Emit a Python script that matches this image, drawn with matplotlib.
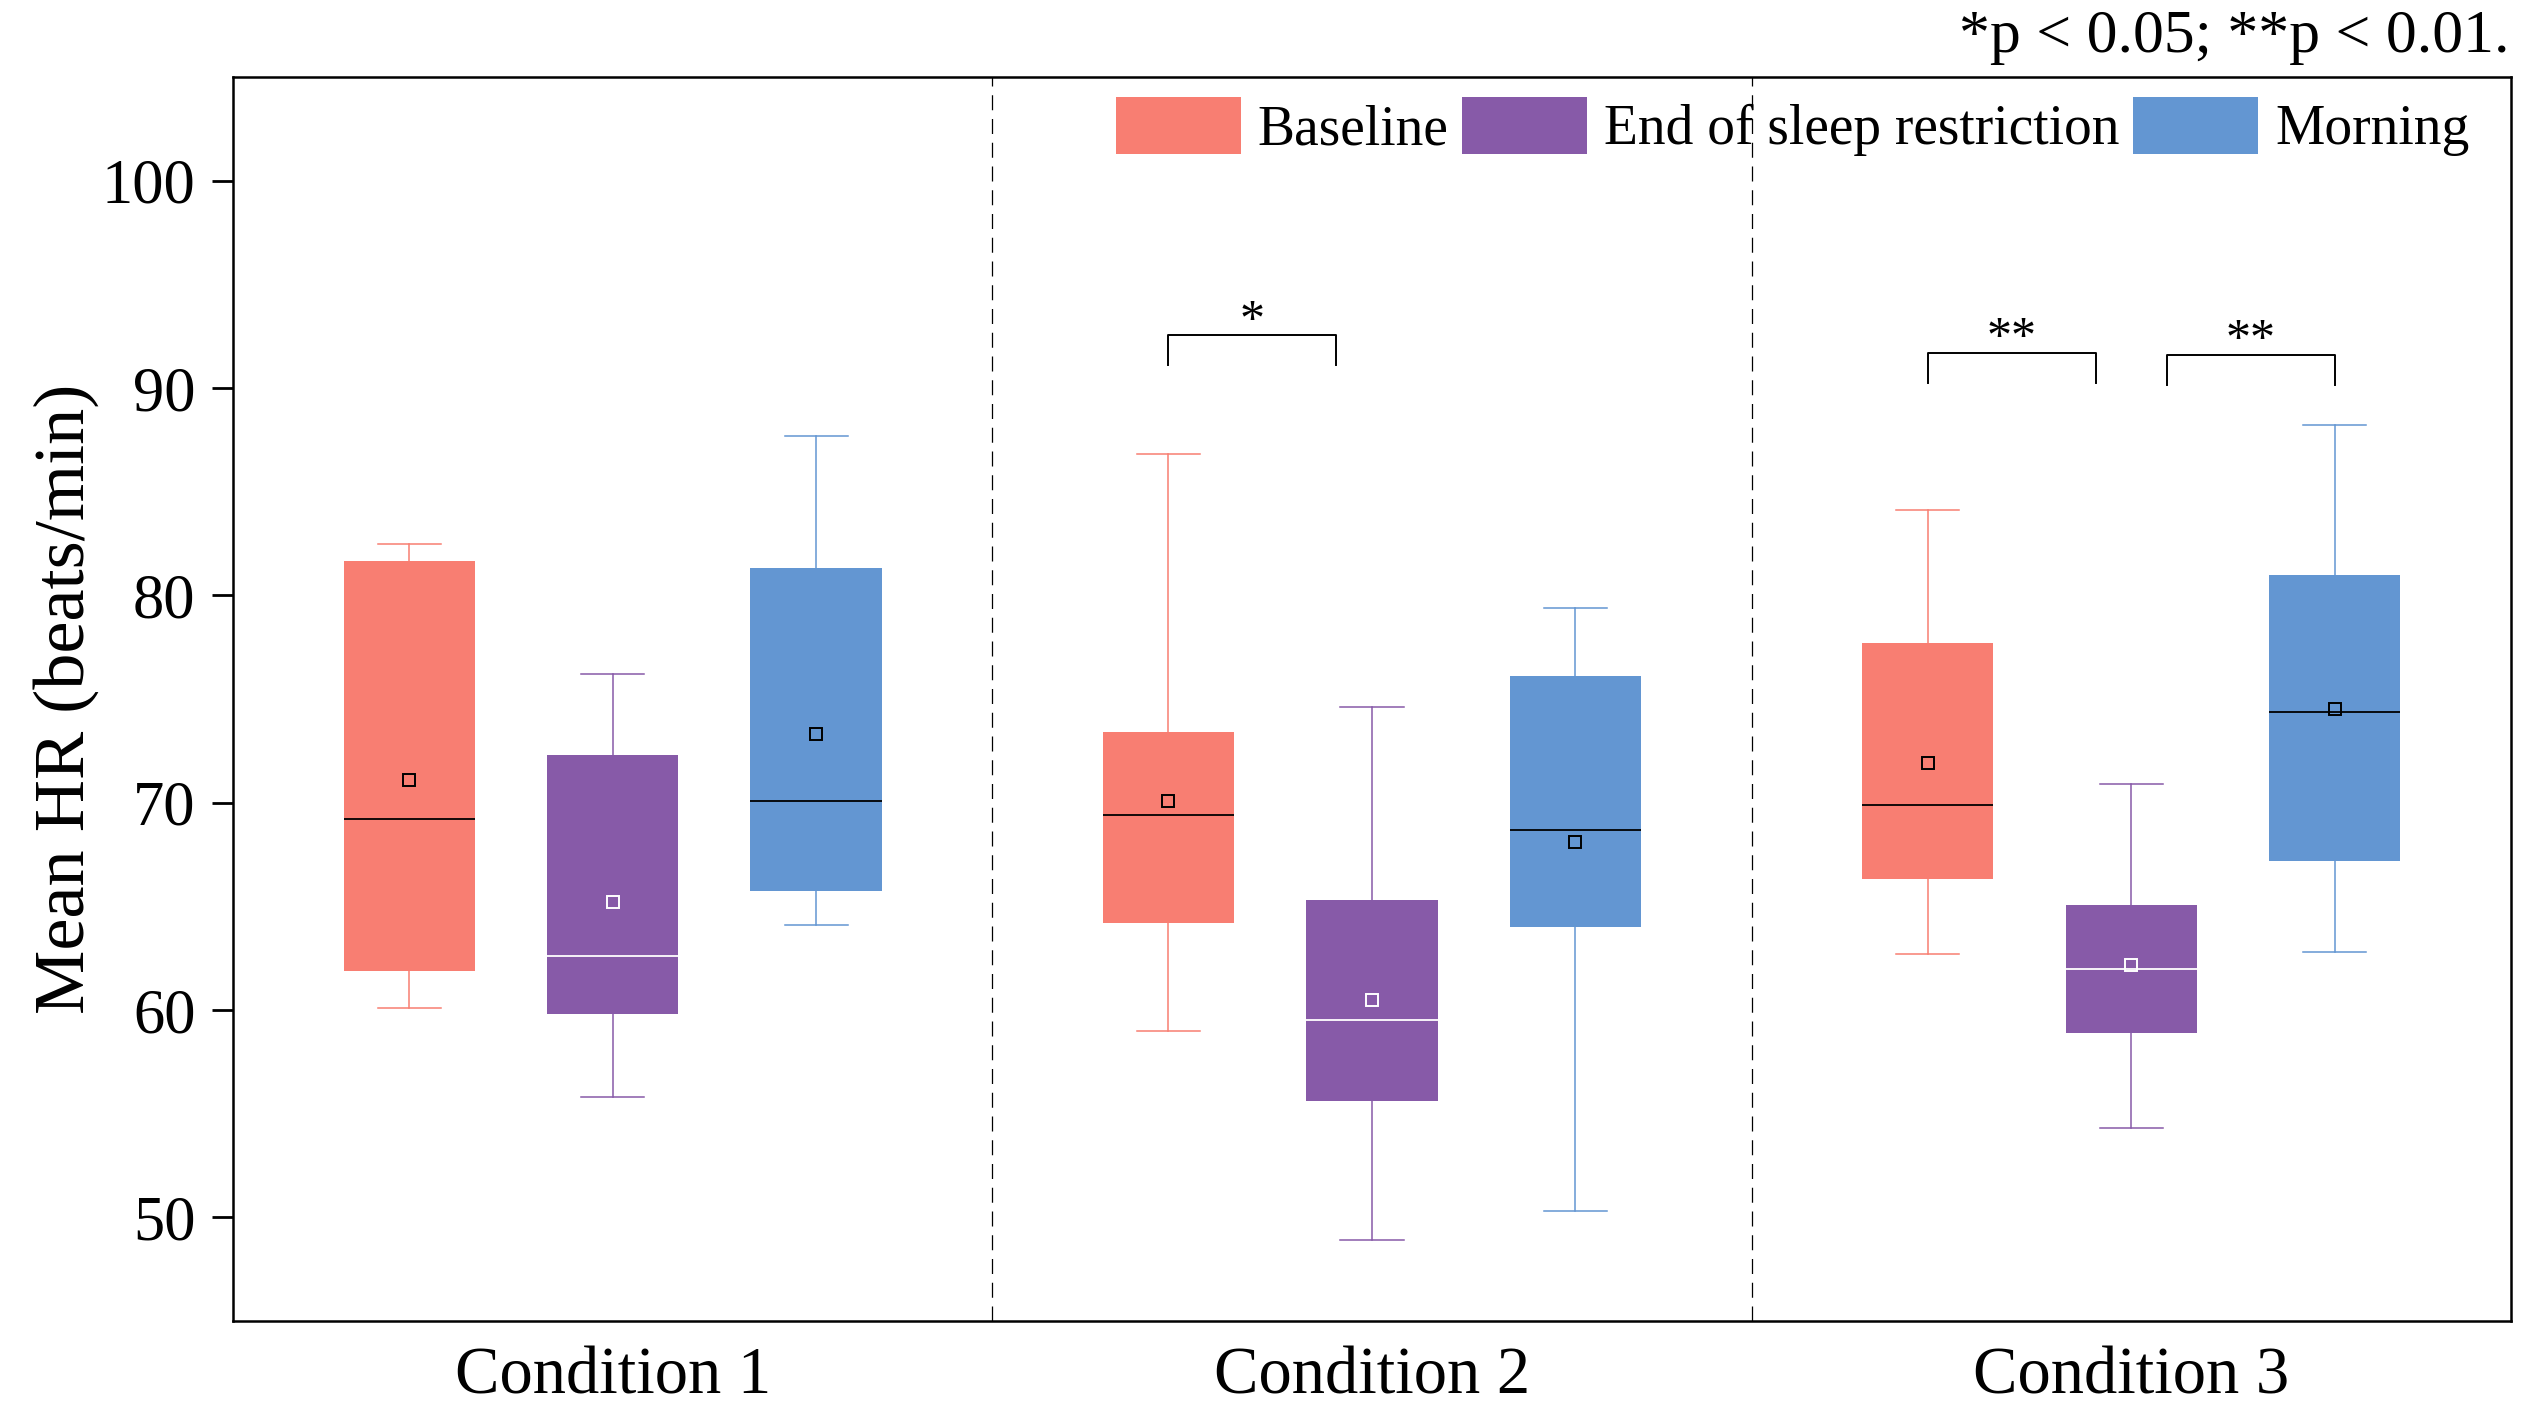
import matplotlib.pyplot as plt
from matplotlib.patches import Patch

plt.rcParams['font.family'] = ['Liberation Serif', 'DejaVu Serif']

# dados
condicoes = ["Condition 1", "Condition 2", "Condition 3"]
series = ["Baseline", "End of sleep restriction", "Morning"]
cores = ["#F87E72", "#875AA8", "#6396D2"]

# [Condition 1, Condition 2, Condition 3] para cada série
wlo = {"Baseline": [60.1, 59.0, 62.7],
       "End of sleep restriction": [55.8, 48.9, 54.3],
       "Morning": [64.1, 50.3, 62.8]}
q1 = {"Baseline": [61.9, 64.2, 66.3],
      "End of sleep restriction": [59.8, 55.6, 58.9],
      "Morning": [65.75, 64.0, 67.2]}
mediana = {"Baseline": [69.2, 69.4, 69.9],
           "End of sleep restriction": [62.6, 59.5, 62.0],
           "Morning": [70.06, 68.7, 74.4]}
q3 = {"Baseline": [81.66, 73.4, 77.7],
      "End of sleep restriction": [72.3, 65.3, 65.05],
      "Morning": [81.3, 76.1, 81.0]}
whi = {"Baseline": [82.5, 86.8, 84.1],
       "End of sleep restriction": [76.2, 74.6, 70.9],
       "Morning": [87.7, 79.4, 88.2]}
media = {"Baseline": [71.1, 70.06, 71.9],
         "End of sleep restriction": [65.2, 60.5, 62.15],
         "Morning": [73.3, 68.1, 74.5]}

# colchetes de significância: (condição, série a, série b, altura, texto)
sig = [(1, 0, 1, 92.55, "*"), (2, 0, 1, 91.7, "**"), (2, 1, 2, 91.6, "**")]

fig = plt.figure(figsize=(25.44, 14.28), dpi=100)
ax = fig.add_axes([0.0916, 0.0749, 0.8954, 0.8711])

desloc = [-0.268, 0, 0.268]
larg = 0.173
recuo = 0.047  # o colchete não chega ao centro da caixa roxa

for j, s in enumerate(series):
    stats = []
    pos = []
    for g in range(3):
        stats.append({"whislo": wlo[s][g], "q1": q1[s][g], "med": mediana[s][g],
                      "q3": q3[s][g], "whishi": whi[s][g], "mean": media[s][g],
                      "fliers": []})
        pos.append(g + 0.5 + desloc[j])
    cor_int = "white" if j == 1 else "black"
    ax.bxp(stats, positions=pos, widths=larg, capwidths=larg * 0.48,
           patch_artist=True, showmeans=True, showfliers=False,
           boxprops=dict(facecolor=cores[j], edgecolor=cores[j], linewidth=0),
           whiskerprops=dict(color=cores[j], linewidth=1.1),
           capprops=dict(color=cores[j], linewidth=1.1),
           medianprops=dict(color=cor_int, linewidth=1.3),
           meanprops=dict(marker="s", markersize=9, markerfacecolor="none",
                          markeredgecolor=cor_int, markeredgewidth=1.4))

# linhas tracejadas entre condições
for xv in [1, 2]:
    ax.axvline(xv, color="black", linewidth=0.9, linestyle=(0, (12, 7)))

# colchetes
for g, a, b, h, txt in sig:
    xa = g + 0.5 + desloc[a] + (recuo if a == 1 else 0)
    xb = g + 0.5 + desloc[b] - (recuo if b == 1 else 0)
    ax.plot([xa, xa, xb, xb], [h - 1.45, h, h, h - 1.45], color="black", linewidth=1.4)
    ax.text((xa + xb) / 2, h - 0.45, txt, ha="center", va="bottom", fontsize=36)

ax.set_xlim(0, 3)
ax.set_ylim(45, 105)
ax.set_yticks([50, 60, 70, 80, 90, 100])
ax.set_xticks([0.5, 1.5, 2.5])
ax.set_xticklabels(condicoes)
ax.tick_params(axis="y", labelsize=45, length=15, width=2, pad=12)
ax.tick_params(axis="x", labelsize=48, length=0, pad=18)
for sp in ax.spines.values():
    sp.set_linewidth(1.8)

ax.set_ylabel("Mean HR (beats/min)", fontsize=52)
ax.yaxis.set_label_coords(-0.059, 0.5)

# legenda
handles = [Patch(facecolor=c, edgecolor="none") for c in cores]
ax.legend(handles, series, loc="upper right", bbox_to_anchor=(0.9817, 0.9839),
          ncol=3, frameon=False, fontsize=40,
          handlelength=2.25, handleheight=1.2, handletextpad=0.3, columnspacing=0.25,
          borderaxespad=0, borderpad=0)

fig.text(0.9865, 0.9636, "*p < 0.05; **p < 0.01.", ha="right", va="baseline", fontsize=44.5)

fig.savefig("out.png", dpi=100)
